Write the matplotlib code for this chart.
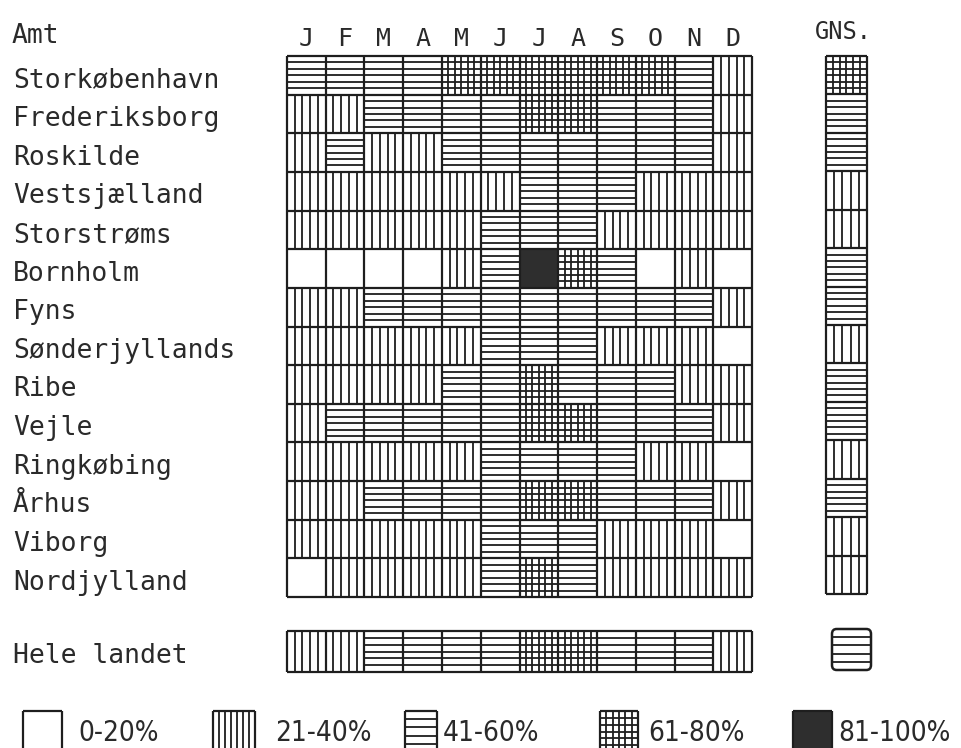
import matplotlib
matplotlib.use("Agg")
import numpy as np
import matplotlib.pyplot as plt
from matplotlib.collections import LineCollection
from matplotlib.patches import Rectangle, FancyBboxPatch
from matplotlib.transforms import blended_transform_factory

# ---------------- data ----------------
# category codes: 0 = 0-20%, 1 = 21-40%, 2 = 41-60%, 3 = 61-80%, 4 = 81-100%
amter = ["Storkøbenhavn", "Frederiksborg", "Roskilde", "Vestsjælland",
         "Storstrøms", "Bornholm", "Fyns", "Sønderjyllands", "Ribe", "Vejle",
         "Ringkøbing", "Århus", "Viborg", "Nordjylland"]
months = ["J", "F", "M", "A", "M", "J", "J", "A", "S", "O", "N", "D"]

storkobenhavn = [2, 2, 2, 2, 3, 3, 3, 3, 3, 3, 2, 1]
frederiksborg = [1, 1, 2, 2, 2, 2, 3, 3, 2, 2, 2, 1]
roskilde      = [1, 2, 1, 1, 2, 2, 2, 2, 2, 2, 2, 1]
vestsjaelland = [1, 1, 1, 1, 1, 1, 2, 2, 2, 1, 1, 1]
storstroms    = [1, 1, 1, 1, 1, 2, 2, 2, 1, 1, 1, 1]
bornholm      = [0, 0, 0, 0, 1, 2, 4, 3, 2, 0, 1, 0]
fyns          = [1, 1, 2, 2, 2, 2, 2, 2, 2, 2, 2, 1]
sonderjylland = [1, 1, 1, 1, 1, 2, 2, 2, 1, 1, 1, 0]
ribe          = [1, 1, 1, 1, 2, 2, 3, 2, 2, 2, 1, 1]
vejle         = [1, 2, 2, 2, 2, 2, 3, 3, 2, 2, 2, 1]
ringkobing    = [1, 1, 1, 1, 1, 2, 2, 2, 2, 1, 1, 0]
aarhus        = [1, 1, 2, 2, 2, 2, 3, 3, 2, 2, 2, 1]
viborg        = [1, 1, 1, 1, 1, 2, 2, 2, 1, 1, 1, 0]
nordjylland   = [0, 1, 1, 1, 1, 2, 3, 2, 1, 1, 1, 1]

gns = [3, 2, 2, 1, 1, 2, 2, 1, 2, 2, 1, 2, 1, 1]
hele_landet = [1, 1, 2, 2, 2, 2, 3, 3, 2, 2, 2, 1]
hele_landet_gns = 2

legend_codes = [0, 1, 2, 3, 4]
legend_labels = ["0-20%", "21-40%", "41-60%", "61-80%", "81-100%"]

matrix = np.array([storkobenhavn, frederiksborg, roskilde, vestsjaelland,
                   storstroms, bornholm, fyns, sonderjylland, ribe, vejle,
                   ringkobing, aarhus, viborg, nordjylland])

# ---------------- style ----------------
W, H = 962, 748
INK = "#1e1e1e"
TXT = "#2a2a2a"
DARK = "#2e2e2e"
MONO = "DejaVu Sans Mono"

fig = plt.figure(figsize=(W / 100, H / 100), dpi=100)
fig.patch.set_facecolor("white")


def add_ax(l, t, r, b):
    ax = fig.add_axes([l / W, 1 - b / H, (r - l) / W, (b - t) / H])
    ax.axis("off")
    return ax


def draw_cells(ax, codes, nv1=5, nv3=6, nh=6, lw=1.3, blw=1.6, borders=True):
    codes = np.atleast_2d(codes)
    nr, nc = codes.shape
    ax.set_xlim(0, nc)
    ax.set_ylim(nr, 0)
    segs = []
    for i in range(nr):
        for j in range(nc):
            c = codes[i, j]
            if c == 4:
                ax.add_patch(Rectangle((j, i), 1, 1, facecolor=DARK,
                                       edgecolor="none"))
            if c in (1, 3):
                n = nv1 if c == 1 else nv3
                for k in range(1, n):
                    segs.append([(j + k / n, i), (j + k / n, i + 1)])
            if c in (2, 3):
                for k in range(1, nh):
                    segs.append([(j, i + k / nh), (j + 1, i + k / nh)])
    lc = LineCollection(segs, colors=INK, linewidths=lw)
    lc.set_clip_on(False)
    ax.add_collection(lc)
    if borders:
        bsegs = [[(x, 0), (x, nr)] for x in range(nc + 1)] + \
                [[(0, y), (nc, y)] for y in range(nr + 1)]
        bl = LineCollection(bsegs, colors=INK, linewidths=blw)
        bl.set_clip_on(False)
        ax.add_collection(bl)


# main grid
ax = add_ax(287, 56, 752, 597)
draw_cells(ax, matrix)

# row labels
tr_rows = blended_transform_factory(fig.transFigure, ax.transData)
for i, name in enumerate(amter):
    ax.text(13 / W, i + 0.5 + 0.31, name, transform=tr_rows, ha="left",
            va="baseline", fontsize=19, family=MONO, color=TXT)

# month letters
tr_cols = blended_transform_factory(ax.transData, fig.transFigure)
for j, m in enumerate(months):
    ax.text(j + 0.5, 1 - 46 / H, m, transform=tr_cols, ha="center",
            va="baseline", fontsize=18, family=MONO, color=TXT)

fig.text(12 / W, 1 - 43 / H, "Amt", ha="left", va="baseline",
         fontsize=19, family=MONO, color=TXT)
fig.text(843 / W, 1 - 39 / H, "GNS.", ha="center", va="baseline",
         fontsize=17, family=MONO, color=TXT)

# GNS column
axg = add_ax(826, 56, 867, 594)
draw_cells(axg, np.array(gns).reshape(-1, 1))

# Hele landet row
axh = add_ax(287, 631, 752, 672)
draw_cells(axh, np.array(hele_landet).reshape(1, -1))
trh = blended_transform_factory(fig.transFigure, axh.transData)
axh.text(13 / W, 0.5 + 0.29, "Hele landet", transform=trh, ha="left",
         va="baseline", fontsize=19, family=MONO, color=TXT)

# Hele landet GNS box (rounded)
axhg = add_ax(832, 629, 871, 670)
draw_cells(axhg, [[hele_landet_gns]], nh=5, borders=False)
axhg.add_patch(FancyBboxPatch((0, 0), 1, 1,
                              boxstyle="round,pad=0,rounding_size=0.12",
                              facecolor="none", edgecolor=INK, linewidth=1.8,
                              clip_on=False))

# legend
leg_boxes = [(23, 62, 78), (213, 255, 275), (405, 437, 443),
             (600, 638, 648), (793, 832, 838)]
leg_n = [(5, 5, 5), (7, 6, 5), (5, 6, 5), (5, 6, 6), (5, 6, 5)]
for code, label, (l, r, tx), (nv1, nv3, nh) in zip(legend_codes, legend_labels,
                                                 leg_boxes, leg_n):
    axl = add_ax(l, 711, r, 752)
    draw_cells(axl, [[code]], nv1=nv1, nv3=nv3, nh=nh)
    fig.text(tx / W, 1 - 741 / H, label, ha="left", va="baseline",
             fontsize=20, family="DejaVu Sans", fontstretch="condensed",
             color=TXT)

fig.savefig("out.png", dpi=100, facecolor="white")
